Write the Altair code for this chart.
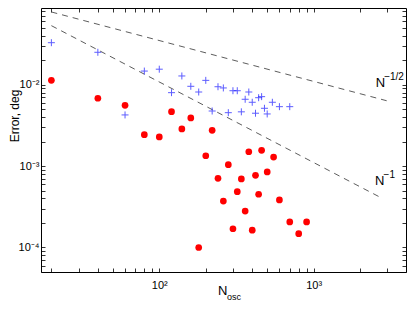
import altair as alt
import pandas as pd

# ---- data ----
blue_x = [20, 40, 60, 80, 100, 120, 140, 160, 180, 200, 220, 240, 260, 280,
          300, 320, 340, 360, 380, 400, 420, 440, 460, 480, 500, 540, 600, 700]
blue_y = [0.0328, 0.025, 0.00425, 0.0147, 0.0155, 0.00798, 0.0128, 0.00955,
          0.00813, 0.0113, 0.00475, 0.00944, 0.00912, 0.00453, 0.00843, 0.00843,
          0.00464, 0.00662, 0.00813, 0.00608, 0.00446, 0.00692, 0.00713, 0.00513,
          0.00437, 0.00608, 0.00537, 0.00537]

red_x = [20, 40, 60, 80, 100, 120, 140, 160, 180, 200, 220, 240, 260, 280, 300,
         320, 340, 360, 380, 400, 420, 440, 460, 500, 550, 600, 700, 800, 900]
red_y = [0.0113, 0.00681, 0.00558, 0.00243, 0.00228, 0.00466, 0.00286, 0.0039,
         0.0001, 0.00134, 0.00275, 0.000708, 0.000372, 0.00104, 0.00017, 0.000485,
         0.000695, 0.00028, 0.0015, 0.000163, 0.00077, 0.000451, 0.00156, 0.000848,
         0.00129, 0.000384, 0.000206, 0.000148, 0.000206]

line_name = ["half", "half", "one", "one"]
line_x = [20, 2970, 20, 2750]
line_y = [0.0782, 0.00635, 0.0531, 0.000406]

ann_main = ["N", "N"]
ann_sup = ["\u22121/2", "\u22121"]
ann_x = [2520, 2500]
ann_y = [0.0093, 0.000586]

x_domain = [17.13, 3963]
y_domain = [5e-5, 0.0875]
x_ticks = [20, 30, 40, 50, 60, 70, 80, 90, 100, 200, 300, 400, 500, 600, 700,
           800, 900, 1000, 2000, 3000]
y_ticks = [5e-5, 6e-5, 7e-5, 8e-5, 9e-5,
           1e-4, 2e-4, 3e-4, 4e-4, 5e-4, 6e-4, 7e-4, 8e-4, 9e-4,
           1e-3, 2e-3, 3e-3, 4e-3, 5e-3, 6e-3, 7e-3, 8e-3, 9e-3,
           1e-2, 2e-2, 3e-2, 4e-2, 5e-2, 6e-2, 7e-2, 8e-2]

FONT = "Liberation Sans"

df_blue = pd.DataFrame({"x": blue_x, "y": blue_y})
df_red = pd.DataFrame({"x": red_x, "y": red_y})
df_line = pd.DataFrame({"name": line_name, "x": line_x, "y": line_y})
df_ann = pd.DataFrame({"t": ann_main, "s": ann_sup, "x": ann_x, "y": ann_y})

xscale = alt.Scale(type="log", domain=x_domain, nice=False)
yscale = alt.Scale(type="log", domain=y_domain, nice=False)

x_lab = "datum.value == 100 ? '10\u00b2' : datum.value == 1000 ? '10\u00b3' : ''"
y_lab = ("abs(datum.value - 0.01) < 1e-9 ? '10\u207b\u00b2' : "
         "abs(datum.value - 0.001) < 1e-10 ? '10\u207b\u00b3' : "
         "abs(datum.value - 0.0001) < 1e-11 ? '10\u207b\u2074' : ''")

common = dict(tickSize=4, offset=-4, domain=False, grid=False, tickColor="black",
              tickWidth=0.8, labelColor="black", labelFont=FONT, labelFontSize=11,
              title=None, labelOverlap=False, labelFlush=False)

ax_bottom = alt.Axis(orient="bottom", values=x_ticks, labelExpr=x_lab,
                     labelPadding=7, **common)
ax_left = alt.Axis(orient="left", values=y_ticks, labelExpr=y_lab,
                   labelPadding=2, **common)
ax_top = alt.Axis(orient="top", values=x_ticks, labels=False, **common)
ax_right = alt.Axis(orient="right", values=y_ticks, labels=False, **common)

lines = alt.Chart(df_line).mark_line(
    color="#333333", strokeWidth=0.8, strokeDash=[6, 5]
).encode(
    x=alt.X("x:Q", scale=xscale, axis=ax_bottom),
    y=alt.Y("y:Q", scale=yscale, axis=ax_left),
    detail="name:N",
)

blue = alt.Chart(df_blue).mark_point(
    shape="M-1,0H1M0,-1V1", filled=False, color="#1a1aff", strokeWidth=1, size=49
).encode(
    x=alt.X("x:Q", scale=xscale, axis=ax_top),
    y=alt.Y("y:Q", scale=yscale, axis=ax_right),
)

red = alt.Chart(df_red).mark_circle(color="#ff0000", opacity=1, size=45).encode(
    x=alt.X("x:Q", scale=xscale, axis=None),
    y=alt.Y("y:Q", scale=yscale, axis=None),
)

ann_n = alt.Chart(df_ann).mark_text(
    font=FONT, fontSize=13, align="left", baseline="alphabetic", color="black"
).encode(
    x=alt.X("x:Q", scale=xscale, axis=None),
    y=alt.Y("y:Q", scale=yscale, axis=None),
    text="t:N",
)
ann_s = alt.Chart(df_ann).mark_text(
    font=FONT, fontSize=10, align="left", baseline="alphabetic", color="black",
    dx=8.5, dy=-7
).encode(
    x=alt.X("x:Q", scale=xscale, axis=None),
    y=alt.Y("y:Q", scale=yscale, axis=None),
    text="s:N",
)

one = pd.DataFrame({"a": [0]})
ytitle = alt.Chart(one).mark_text(
    text="Error, deg", font=FONT, fontSize=12, angle=270, align="center",
    baseline="middle", color="black"
).encode(x=alt.value(-26), y=alt.value(108))
xtitle_n = alt.Chart(one).mark_text(
    text="N", font=FONT, fontSize=13, align="left", baseline="alphabetic",
    color="black"
).encode(x=alt.value(177), y=alt.value(287))
xtitle_s = alt.Chart(one).mark_text(
    text="osc", font=FONT, fontSize=9, align="left", baseline="alphabetic",
    color="black"
).encode(x=alt.value(186), y=alt.value(292))

chart = alt.layer(
    lines, blue, red, ann_n, ann_s, ytitle, xtitle_n, xtitle_s
).resolve_axis(
    x="independent", y="independent"
).properties(
    width=365, height=264,
    autosize=alt.AutoSizeParams(type="none"),
    padding={"left": 33, "top": 0, "right": 1, "bottom": 29},
).configure_view(
    stroke="black", strokeWidth=1
)

chart.save("out.html", embed_options={"renderer": "svg", "actions": False})
